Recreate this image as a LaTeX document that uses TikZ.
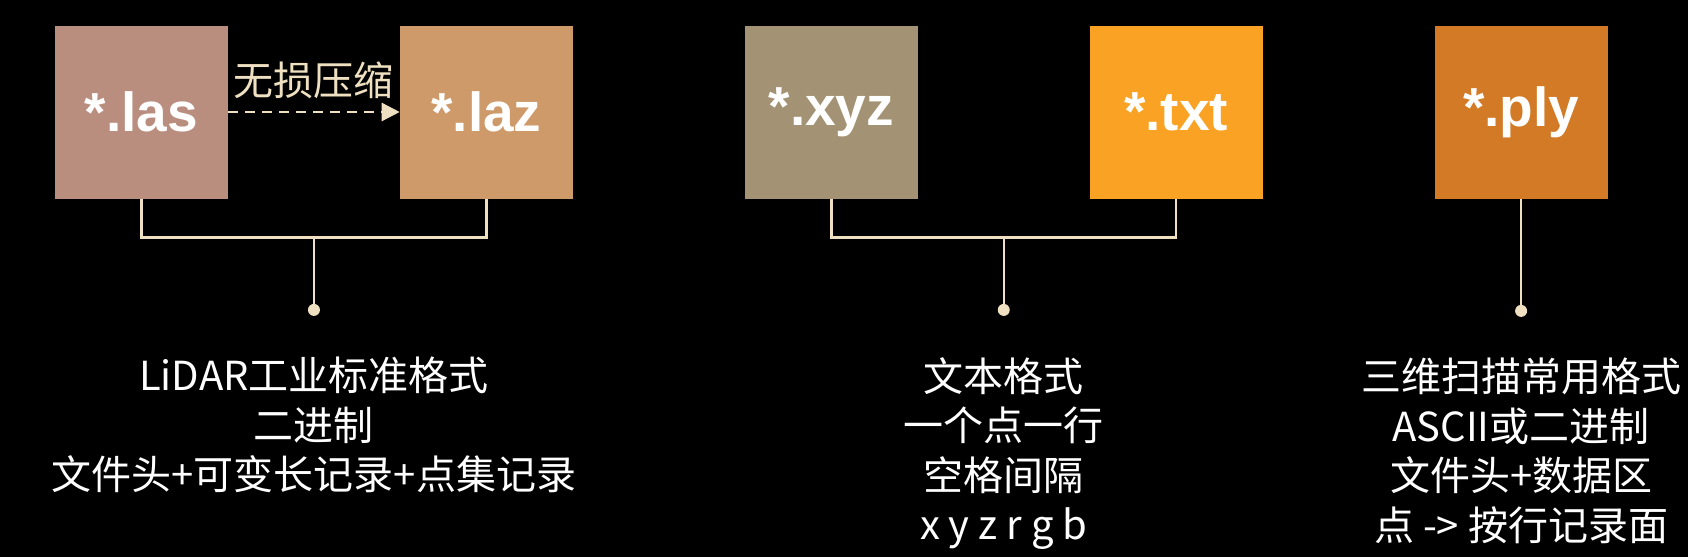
\documentclass[tikz,border=0pt]{standalone}
\usepackage{fontspec}
\setmainfont{Liberation Sans}
\newfontfamily\cjk{Noto Sans CJK SC}
\usepackage{xcolor}
\usetikzlibrary{arrows.meta, positioning, calc}

\definecolor{clas}{RGB}{185,142,127}
\definecolor{claz}{RGB}{206,154,106}
\definecolor{cxyz}{RGB}{163,147,116}
\definecolor{ctxt}{RGB}{250,162,36}
\definecolor{cply}{RGB}{210,122,37}
\definecolor{cream}{RGB}{238,224,192}

\begin{document}
\begin{tikzpicture}[
  x=1pt, y=1pt,
  node distance=171.5pt,
  box/.style={minimum width=173pt,minimum height=173pt,inner sep=0pt,
              text=white,font=\fontsize{55}{62}\selectfont\bfseries},
  n1/.style={box,fill=clas},
  n2/.style={box,fill=claz},
  n3/.style={box,fill=cxyz},
  n4/.style={box,fill=ctxt},
  n5/.style={box,fill=cply},
  dot/.style={circle,fill=cream,minimum size=12pt,inner sep=0pt},
  note/.style={align=center,text=white,inner sep=0pt,
               font=\cjk\fontsize{40}{49.5}\selectfont},
  link/.style={draw=cream,line width=2.5pt},
]
\fill[black] (0,0) rectangle (1688,-557);
\useasboundingbox (0,0) rectangle (1688,-557);

% file boxes
\node[n1] (las) at (141.5,-112) {*.las};
\node[n2, right=of las] (laz) {*.laz};
\node[n3, right=of laz] (xyz) {*.xyz};
\node[n4, right=of xyz] (txt) {*.txt};
\node[n5, right=of txt] (ply) {*.ply};

\draw[link, dash pattern=on 10pt off 7pt, -{Triangle[length=18pt,width=18pt]}]
  (las) -- (laz) node[midway, above=12pt, inner sep=0pt, text=cream,
  font=\cjk\fontsize{40}{48}\selectfont] (zip) {无损压缩};

% brackets
\coordinate (j1) at ($(las.south)!0.5!(laz.south)+(0,-39)$);
\coordinate (j2) at ($(xyz.south)!0.5!(txt.south)+(0,-39)$);
\draw[link] (las.south) |- (j1) -| (laz.south);
\draw[link] (xyz.south) |- (j2) -| (txt.south);

\node[dot, below=66pt of j1] (d1) {};
\node[dot, below=66pt of j2] (d2) {};
\node[dot, below=106pt of ply.south] (d3) {};
\draw[link] (j1) -- (d1);
\draw[link] (j2) -- (d2);
\draw[link] (ply.south) -- (d3);

% descriptions
\node[note, below=41pt of d1] (t1) {LiDAR工业标准格式\\二进制\\文件头+可变长记录+点集记录};
\node[note, below=41pt of d2] (t2) {文本格式\\一个点一行\\空格间隔\\x y z r g b};
\node[note, below=41pt of d3] (t3) {三维扫描常用格式\\ASCII或二进制\\文件头+数据区\\点 -> 按行记录面};
\end{tikzpicture}
\end{document}
